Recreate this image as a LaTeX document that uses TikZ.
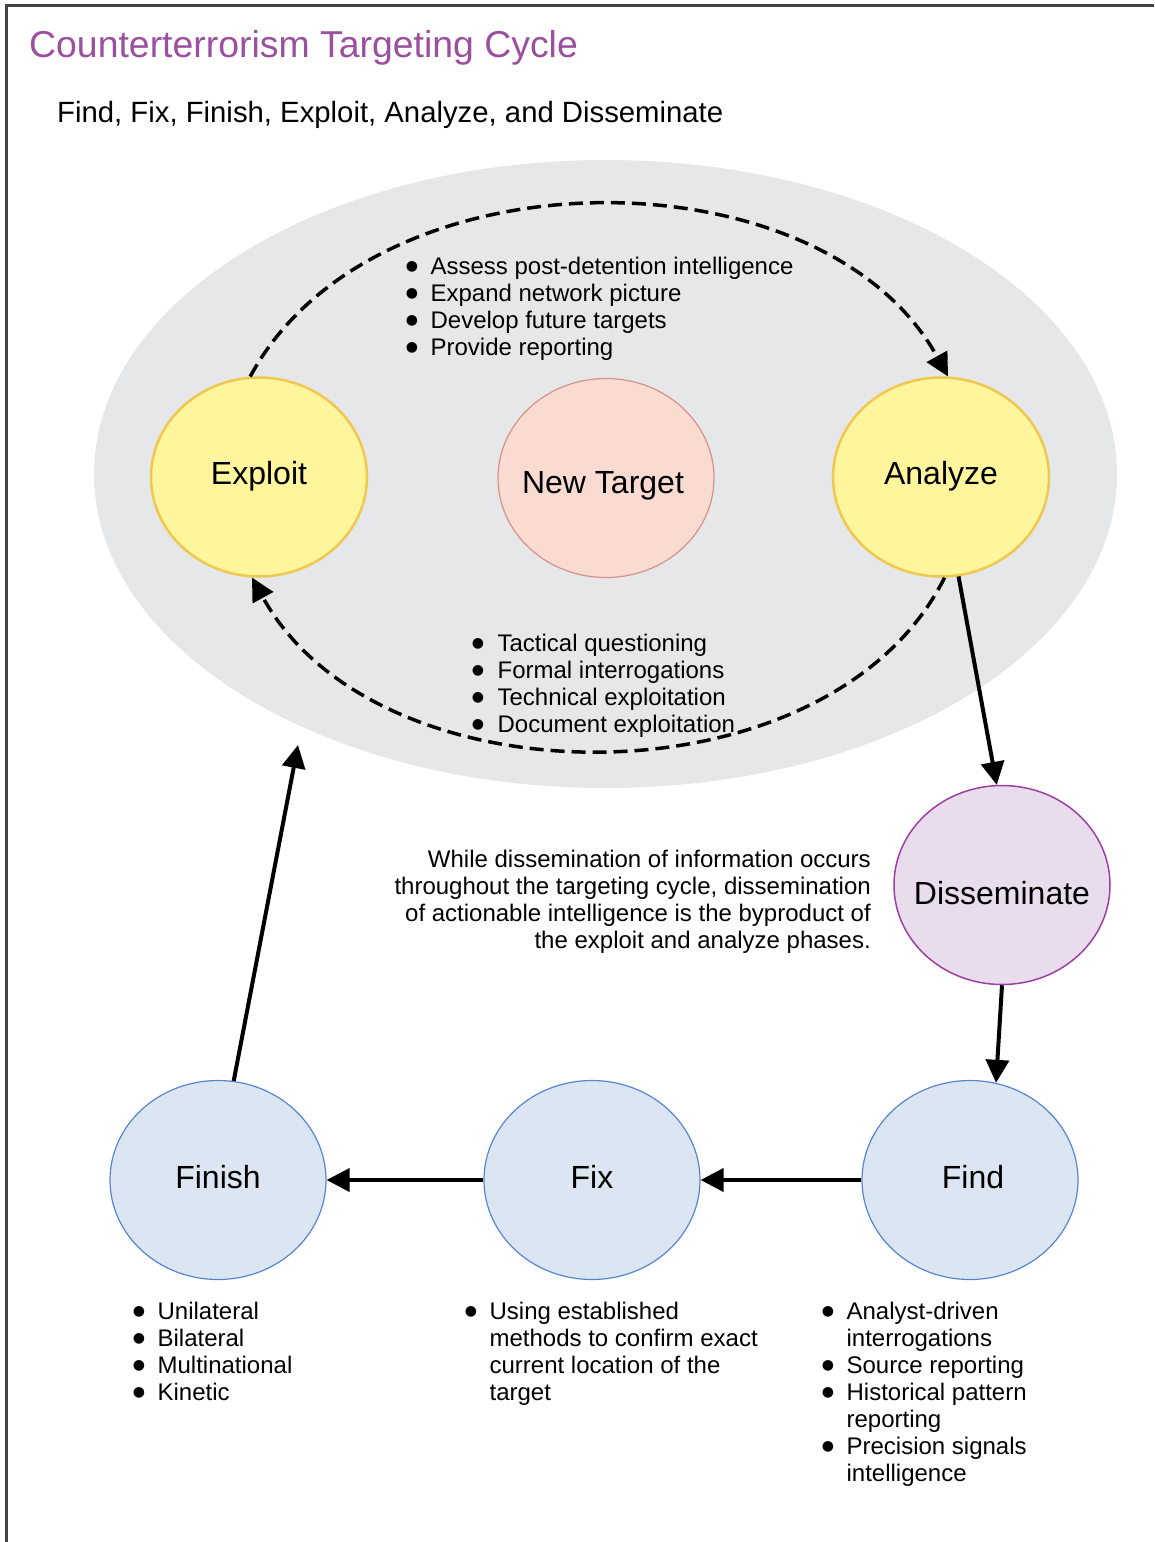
\documentclass[tikz,border=0pt]{standalone}
\usepackage{fontspec}
\setmainfont{Liberation Sans}
\newfontfamily\symfont{DejaVu Sans}
\usetikzlibrary{shapes.geometric,arrows.meta}
\definecolor{bgell}{HTML}{E6E7E8}
\definecolor{yfill}{HTML}{FFF59D}
\definecolor{ydraw}{HTML}{F0C850}
\definecolor{pfill}{HTML}{FADBD2}
\definecolor{pdraw}{HTML}{D8918A}
\definecolor{vfill}{HTML}{E9DDED}
\definecolor{vdraw}{HTML}{9E3FA3}
\definecolor{bfill}{HTML}{DCE6F2}
\definecolor{bdraw}{HTML}{5585CC}
\definecolor{titlec}{HTML}{9B4F9F}
\definecolor{framec}{HTML}{444444}
\newcommand{\bl}{\raisebox{3.6pt}[0pt][0pt]{\symfont\fontsize{14}{14}\selectfont ●}}
\begin{document}
\begin{tikzpicture}[x=1pt,y=1pt,
  stage/.style={ellipse, inner sep=0pt, minimum width=216pt, minimum height=199pt},
  yst/.style={stage, fill=yfill, draw=ydraw, line width=2.5pt},
  pst/.style={stage, fill=pfill, draw=pdraw, line width=1.2pt},
  vst/.style={stage, fill=vfill, draw=vdraw, line width=1.5pt},
  bst/.style={stage, fill=bfill, draw=bdraw, line width=1.2pt},
  lbl/.style={anchor=base, inner sep=0pt, font=\fontsize{32}{38}\selectfont},
  listtxt/.style={anchor=base west, inner sep=0pt, font=\fontsize{24}{27}\selectfont},
  flow/.style={line width=4pt, -{Triangle[length=23pt,width=23pt]}},
  dashflow/.style={flow, line width=3.5pt, dash pattern=on 14pt off 7pt},
]
\useasboundingbox (0,0) rectangle (1154,-1542);
% frame
\draw[framec, line width=3pt] (1154,-5) -- (6,-5) -- (6,-1542);
% title
\node[anchor=base west, inner sep=0pt, font=\fontsize{37.4}{44}\selectfont, text=titlec] (title) at (29,-57) {Counterterrorism Targeting Cycle};
\node[anchor=base west, inner sep=0pt, font=\fontsize{29.3}{34}\selectfont] (subtitle) at (57,-122) {Find, Fix, Finish, Exploit, Analyze, and Disseminate};
% big gray ellipse
\node[ellipse, fill=bgell, inner sep=0pt, minimum width=1023pt, minimum height=628pt] (cycle) at (605.5,-474) {};
% stages
\node[yst] (exploit) at (259,-477) {};
\node[pst] (newtarget) at (606,-478) {};
\node[yst] (analyze) at (941,-477) {};
\node[vst] (disseminate) at (1002,-885) {};
\node[bst] (find) at (970,-1180) {};
\node[bst] (fix) at (592,-1180) {};
\node[bst] (finish) at (218,-1180) {};
% stage labels
\node[lbl] (exploit-t) at ([yshift=-7pt]exploit.center) {Exploit};
\node[lbl] (newtarget-t) at ([yshift=-15pt,xshift=-3pt]newtarget.center) {New Target};
\node[lbl] (analyze-t) at ([yshift=-7pt]analyze.center) {Analyze};
\node[lbl] (disseminate-t) at ([yshift=-19pt]disseminate.center) {Disseminate};
\node[lbl] (find-t) at ([yshift=-8pt,xshift=3pt]find.center) {Find};
\node[lbl] (fix-t) at ([yshift=-8pt]fix.center) {Fix};
\node[lbl] (finish-t) at ([yshift=-8pt]finish.center) {Finish};
% dashed loop
\draw[dashflow] (exploit.95) .. controls (373,-148) and (822,-148) .. (analyze.86);
\draw[dashflow] (analyze.-88) .. controls (830,-807) and (378,-807) .. (exploit.-94);
% solid flow
\coordinate (finishend) at (298,-745);
\draw[flow] (analyze.-80) -- (disseminate.93);
\draw[flow] (disseminate.-90) -- (find.75);
\draw[flow] (find.west) -- (fix.east);
\draw[flow] (fix.west) -- (finish.east);
\draw[flow] (finish.81) -- (finishend);
% lists
\node[listtxt] (toplist) at (405.6,-274) {\begin{tabular}[t]{@{}l@{\hspace{12.6pt}}l@{}}
\bl & Assess post-detention intelligence\\
\bl & Expand network picture\\
\bl & Develop future targets\\
\bl & Provide reporting
\end{tabular}};
\node[listtxt] (botlist) at (471.6,-651) {\begin{tabular}[t]{@{}l@{\hspace{13.6pt}}l@{}}
\bl & Tactical questioning\\
\bl & Formal interrogations\\
\bl & Technical exploitation\\
\bl & Document exploitation
\end{tabular}};
\node[listtxt] (finishlist) at (132.6,-1319) {\begin{tabular}[t]{@{}l@{\hspace{12.6pt}}l@{}}
\bl & Unilateral\\
\bl & Bilateral\\
\bl & Multinational\\
\bl & Kinetic
\end{tabular}};
\node[listtxt] (fixlist) at (464.6,-1319) {\begin{tabular}[t]{@{}l@{\hspace{12.6pt}}l@{}}
\bl & Using established\\
 & methods to confirm exact\\
 & current location of the\\
 & target
\end{tabular}};
\node[listtxt] (findlist) at (821.6,-1319) {\begin{tabular}[t]{@{}l@{\hspace{12.6pt}}l@{}}
\bl & Analyst-driven\\
 & interrogations\\
\bl & Source reporting\\
\bl & Historical pattern\\
 & reporting\\
\bl & Precision signals\\
 & intelligence
\end{tabular}};
% description
\node[anchor=base east, inner sep=0pt, font=\fontsize{24}{27}\selectfont] (note) at (871,-867) {\begin{tabular}[t]{@{}r@{}}
While dissemination of information occurs\\
throughout the targeting cycle, dissemination\\
of actionable intelligence is the byproduct of\\
the exploit and analyze phases.
\end{tabular}};
\end{tikzpicture}
\end{document}
